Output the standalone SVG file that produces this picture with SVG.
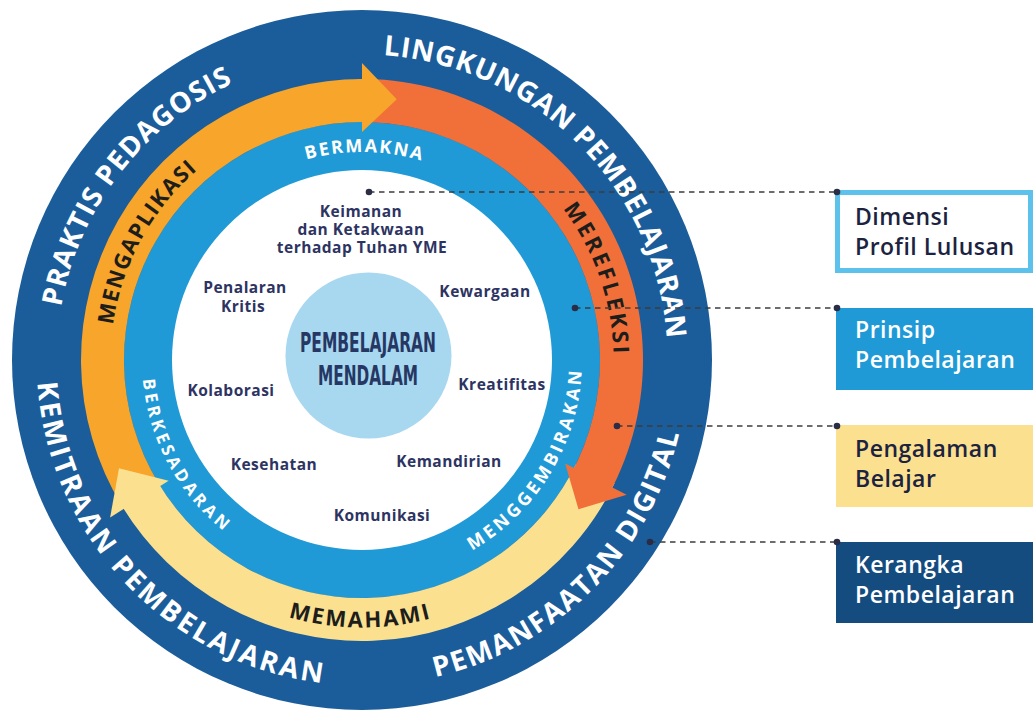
<svg xmlns="http://www.w3.org/2000/svg" width="1035" height="711" viewBox="0 0 1035 711">
<defs>
<style>
.ring{font-family:"Open Sans","Noto Sans","DejaVu Sans",sans-serif;font-weight:700;fill:#ffffff;font-size:28px}
.band{font-family:"Open Sans","Noto Sans","DejaVu Sans",sans-serif;font-weight:700;fill:#1d1d1b;font-size:22px}
.lbt{font-family:"Open Sans","Noto Sans","DejaVu Sans",sans-serif;font-weight:700;fill:#ffffff;font-size:18px}
.dim{font-family:"Open Sans","Noto Sans","DejaVu Sans",sans-serif;font-weight:700;fill:#2d3462;font-size:15.5px;text-anchor:middle;letter-spacing:0.5px}
.core{font-family:"Liberation Sans Narrow","DejaVu Sans Condensed","Roboto Condensed",sans-serif;font-stretch:condensed;font-weight:700;fill:#263764;font-size:26px}
.leg{font-family:"Open Sans","Noto Sans","DejaVu Sans",sans-serif;font-weight:600;font-size:23px;letter-spacing:0.5px}
.conn line{stroke:#3c3c3c;stroke-width:1.3;stroke-dasharray:5.5 4.5}
.conn circle{fill:#2a2d45}
</style>
<path id="p1" d="M61.14,306.95 A305.5,305.5 0 0,1 247.56,76.75"/>
<path id="p2" d="M383.31,55.24 A305.5,305.5 0 0,1 667.45,354.67"/>
<path id="p3" d="M435.22,677.16 A325.5,325.5 0 0,0 682.56,416.52"/>
<path id="p4" d="M37.29,382.71 A325.5,325.5 0 0,0 339.29,684.71"/>
<path id="p5" d="M112.95,325.0 A251.5,251.5 0 0,1 207.16,161.81"/>
<path id="p6" d="M562.86,208.64 A251.5,251.5 0 0,1 613.41,366.58"/>
<path id="p7" d="M288.27,617.14 A267.5,267.5 0 0,0 444.66,614.41"/>
<path id="p8" d="M306.41,159.57 A208,208 0 0,1 429.72,163.33"/>
<path id="p9" d="M472,550.53 A220,220 0 0,0 582,360"/>
<path id="p10" d="M142.84,379.18 A220,220 0 0,0 232.69,537.98"/>
</defs>
<rect width="1035" height="711" fill="#ffffff"/>

<g id="kerangka-ring">
<circle cx="362" cy="360" r="350" fill="#1b5d9a"/>
<text class="ring"><textPath href="#p1" textLength="293">PRAKTIS PEDAGOSIS</textPath></text>
<text class="ring"><textPath href="#p2" textLength="437">LINGKUNGAN PEMBELAJARAN</textPath></text>
<text class="ring"><textPath href="#p3" textLength="363">PEMANFAATAN DIGITAL</textPath></text>
<text class="ring"><textPath href="#p4" textLength="448">KEMITRAAN PEMBELAJARAN</textPath></text>
</g>

<g id="prinsip-ring">
<circle cx="362" cy="360" r="238" fill="#1f9ad6"/>
<circle cx="362" cy="360" r="190" fill="#ffffff"/>
<text class="lbt"><textPath href="#p8" textLength="116">BERMAKNA</textPath></text>
<text class="lbt"><textPath href="#p9" textLength="219">MENGGEMBIRAKAN</textPath></text>
<text class="lbt" style="font-size:17px"><textPath href="#p10" textLength="176">BERKESADARAN</textPath></text>
</g>

<g id="pengalaman-ring">
<path id="band-memahami" d="M614.56,483.18 A281,281 0 0,1 119.88,502.62 L156.93,480.79 A238,238 0 0,0 575.91,464.33 Z" fill="#fbe08f"/>
<path id="band-merefleksi" d="M357.10,79.04 A281,281 0 0,1 608.95,494.08 L571.16,473.56 A238,238 0 0,0 357.85,122.04 Z" fill="#f1703a"/>
<path id="band-mengaplikasi" d="M122.41,506.82 A281,281 0 0,1 366.90,79.04 L366.15,122.04 A238,238 0 0,0 159.07,484.36 Z" fill="#f7a52b"/>
<path id="head-mengaplikasi" d="M362,63 L396.78,99.31 L362,132 Z" fill="#f7a52b"/>
<path id="head-merefleksi" d="M626.63,494.84 L578.49,509.34 L565.15,463.51 Z" fill="#f1703a"/>
<path id="head-memahami" d="M110.13,517.39 L119.0,468.19 L168.64,480.82 Z" fill="#fbe08f"/>
<text class="band"><textPath href="#p5" textLength="180">MENGAPLIKASI</textPath></text>
<text class="band"><textPath href="#p6" textLength="156">MEREFLEKSI</textPath></text>
<text class="band"><textPath href="#p7" textLength="144">MEMAHAMI</textPath></text>
</g>

<g id="pembelajaran-mendalam">
<circle cx="368.5" cy="355.5" r="83" fill="#a7d8f0"/>
<text class="core" x="300" y="352" textLength="136" lengthAdjust="spacingAndGlyphs">PEMBELAJARAN</text>
<text class="core" x="318" y="385" textLength="100" lengthAdjust="spacingAndGlyphs">MENDALAM</text>
</g>

<g id="dimensi-profil">
<text class="dim" x="361" y="217">Keimanan</text>
<text class="dim" x="361" y="235">dan Ketakwaan</text>
<text class="dim" x="362" y="253">terhadap Tuhan YME</text>
<text class="dim" x="245" y="293">Penalaran</text>
<text class="dim" x="243" y="311.5">Kritis</text>
<text class="dim" x="485" y="297">Kewargaan</text>
<text class="dim" x="231" y="396">Kolaborasi</text>
<text class="dim" x="502" y="389.5">Kreatifitas</text>
<text class="dim" x="274" y="469.5">Kesehatan</text>
<text class="dim" x="449" y="466.5">Kemandirian</text>
<text class="dim" x="382" y="521">Komunikasi</text>
</g>

<g id="connectors" class="conn">
<line x1="369" y1="192" x2="837" y2="192"/>
<line x1="575" y1="308" x2="837" y2="308"/>
<line x1="617" y1="426" x2="837" y2="426"/>
<line x1="650" y1="542" x2="837" y2="542"/>
<circle cx="369" cy="192" r="3.3"/>
<circle cx="575" cy="308" r="3.3"/>
<circle cx="617" cy="426" r="3.3"/>
<circle cx="650" cy="542" r="3.3"/>
</g>

<g id="legend-dimensi">
<rect x="837.5" y="192.5" width="193" height="78" fill="#ffffff" stroke="#5cc2eb" stroke-width="5"/>
<text class="leg" x="855" y="225" fill="#1c2340">Dimensi</text>
<text class="leg" x="855" y="255" fill="#1c2340">Profil Lulusan</text>
</g>
<g id="legend-prinsip">
<rect x="836" y="308" width="197" height="82" fill="#1f9ad6"/>
<text class="leg" x="855" y="338" fill="#ffffff">Prinsip</text>
<text class="leg" x="855" y="368" fill="#ffffff">Pembelajaran</text>
</g>
<g id="legend-pengalaman">
<rect x="836" y="425" width="197" height="82" fill="#fbe08f"/>
<text class="leg" x="855" y="457" fill="#1c2340">Pengalaman</text>
<text class="leg" x="855" y="487" fill="#1c2340">Belajar</text>
</g>
<g id="legend-kerangka">
<rect x="836" y="542" width="197" height="81" fill="#154c80"/>
<text class="leg" x="855" y="573" fill="#ffffff">Kerangka</text>
<text class="leg" x="855" y="603" fill="#ffffff">Pembelajaran</text>
</g>
<g id="connector-dots">
<circle cx="837" cy="192" r="3.3" fill="#2a2d45"/>
<circle cx="837" cy="308" r="3.3" fill="#2a2d45"/>
<circle cx="837" cy="426" r="3.3" fill="#2a2d45"/>
<circle cx="837" cy="542" r="3.3" fill="#2a2d45"/>
</g>
</svg>
